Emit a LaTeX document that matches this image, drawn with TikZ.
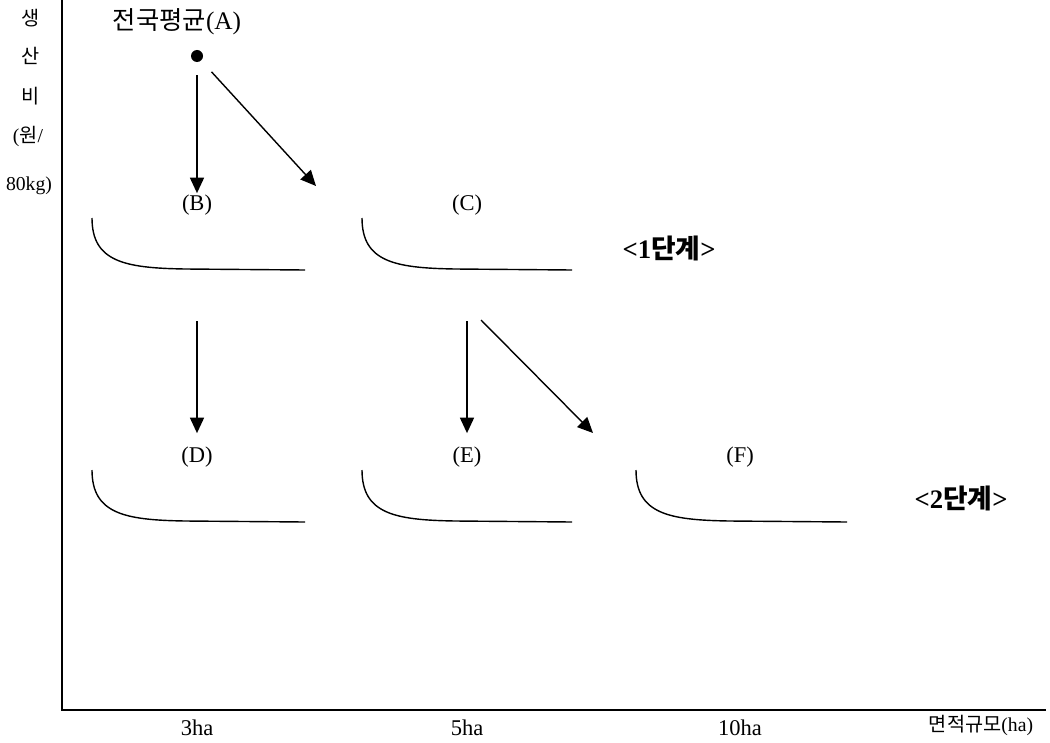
\documentclass[tikz,border=0pt]{standalone}
\usepackage{fontspec}
\setmainfont{Liberation Serif}
\newfontfamily\kr{Noto Sans CJK KR}
\usepackage{tikz}
\usetikzlibrary{arrows.meta, positioning}

\begin{document}
\begin{tikzpicture}[x=0.025cm, y=-0.025cm,
    axis/.style={line width=1.3pt, black},
    arr/.style={-{Triangle[length=11pt,width=10pt]}, line width=1pt},
    costcurve/.style={line width=1pt},
    lab/.style={font=\fontsize{16}{18}\selectfont, text height=0.38cm, text depth=0.12cm, inner sep=0.04cm},
    ylab/.style={font=\fontsize{14}{16}\selectfont, inner sep=0pt},
    xlab/.style={font=\fontsize{16}{18}\selectfont, inner sep=0pt},
    stagelab/.style={font=\bfseries\fontsize{19}{21}\selectfont, inner sep=0pt},
]
\useasboundingbox (0,0) rectangle (1050,742);
% axes
\coordinate (origin) at (62,710);
\coordinate (ytop) at (62,0);
\coordinate (xend) at (1046,710);
\draw[axis] (ytop) -- (origin) -- (xend);
\node[ylab] (y1) at (31,18)  {\kr 생};
\node[ylab] (y2) at (31,56)  {\kr 산};
\node[ylab] (y3) at (31,96)  {\kr 비};
\node[ylab] (y4) at (28,136) {({\kr 원}/};
\node[ylab] (y5) at (29,186) {80kg)};
\node[xlab] (x3)  at (197,728) {3ha};
\node[xlab] (x5)  at (467,728) {5ha};
\node[xlab] (x10) at (740,728) {10ha};
\node[font=\fontsize{14}{16}\selectfont, inner sep=0pt] (xname) at (981,725) {{\kr 면적규모}(ha)};
% national average
\node[font=\fontsize{18}{21}\selectfont, inner sep=0pt] (avg) at (177,22) {{\kr 전국평균}(A)};
\node[circle, fill, inner sep=0pt, minimum size=0.3cm] (dotA) at (197,56) {};
% stage 1
\node[lab] (labB) at (197,205) {(B)};
\node[lab] (labC) at (467,205) {(C)};
\coordinate (toBC) at (316,186);
\draw[arr, shorten <=0.33cm] (dotA) -- (labB);
\draw[arr, shorten <=0.38cm] (dotA) -- (toBC);
\draw[costcurve] (92,218) .. controls (92,262) and (125,268) .. (185,269) -- (305,270);
\draw[costcurve] (362,218) .. controls (362,262) and (395,268) .. (455,269) -- (572,270);
\node[stagelab] (stage1) at (669,248) {<1{\kr 단계}>};
% stage 2
\coordinate (fromB) at (197,321);
\coordinate (fromC) at (467,321);
\coordinate (fromC2) at (481,320);
\coordinate (toEF) at (593,433);
\node[lab] (labD) at (197,457) {(D)};
\node[lab] (labE) at (467,457) {(E)};
\node[lab] (labF) at (740,457) {(F)};
\draw[arr, shorten >=0.3cm] (fromB) -- (labD);
\draw[arr, shorten >=0.3cm] (fromC) -- (labE);
\draw[arr] (fromC2) -- (toEF);
\draw[costcurve] (92,470) .. controls (92,514) and (125,520) .. (185,521) -- (305,522);
\draw[costcurve] (362,470) .. controls (362,514) and (395,520) .. (455,521) -- (572,522);
\draw[costcurve] (636,470) .. controls (636,514) and (669,520) .. (729,521) -- (847,522);
\node[stagelab] (stage2) at (961,498) {<2{\kr 단계}>};
\end{tikzpicture}
\end{document}
